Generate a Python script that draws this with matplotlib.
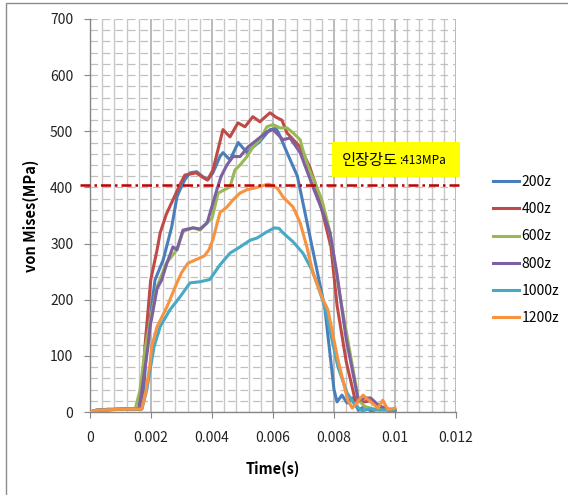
import numpy as np
import matplotlib
matplotlib.use("Agg")
import matplotlib.pyplot as plt
from matplotlib.patches import Rectangle

plt.rcParams['font.family'] = ['Noto Sans CJK KR', 'DejaVu Sans']

# von Mises stress (MPa) vs time (s)
t_200 = [0, 0.0002, 0.0006, 0.001, 0.0016, 0.00176, 0.00186, 0.00213, 0.0024, 0.00268, 0.00285,
         0.00295, 0.00311, 0.00328, 0.0035, 0.0037, 0.00387, 0.00403, 0.00426, 0.00436, 0.00459,
         0.00486, 0.00515, 0.00535, 0.00555, 0.0059, 0.0061, 0.0062, 0.00646, 0.0068, 0.0077,
         0.0080, 0.0081, 0.00826, 0.00843, 0.0086, 0.0088, 0.009, 0.0092, 0.0095, 0.0098]
v_200 = [0, 3, 4, 5, 5, 39, 116, 235, 271, 330, 383,
         396, 414, 426, 428, 419, 414, 426, 455, 462, 449,
         480, 462, 472, 481, 503, 505, 495, 462, 420, 185,
         40, 18, 30, 16, 25, 3, 10, 2, 5, 3]

t_400 = [0, 0.0002, 0.0006, 0.001, 0.0016, 0.00172, 0.0018, 0.00199, 0.0022, 0.0023, 0.0025,
         0.00272, 0.00295, 0.00311, 0.00348, 0.0037, 0.00385, 0.00403, 0.00436, 0.00459, 0.00485,
         0.00508, 0.00534, 0.00557, 0.0059, 0.0061, 0.00629, 0.00646, 0.00689, 0.0072, 0.0074,
         0.0079, 0.0081, 0.0084, 0.0087, 0.009, 0.0092, 0.0095, 0.0098, 0.01]
v_400 = [0, 3, 5, 5, 5, 39, 116, 235, 289, 319, 352,
         378, 405, 422, 426, 418, 413, 431, 503, 490, 515,
         508, 526, 517, 533, 525, 520, 497, 472, 437, 405,
         294, 190, 90, 20, 18, 20, 8, 3, 3]

t_600 = [0, 0.0002, 0.0006, 0.001, 0.00148, 0.00164, 0.0018, 0.002, 0.0022, 0.0025, 0.00285,
         0.00305, 0.00338, 0.00361, 0.00384, 0.004, 0.0042, 0.00459, 0.00475, 0.00492, 0.00515,
         0.00534, 0.00557, 0.0058, 0.006, 0.00623, 0.00646, 0.00666, 0.00689, 0.00698, 0.00715,
         0.00738, 0.0076, 0.00777, 0.00787, 0.0082, 0.0088, 0.009, 0.0093, 0.0096, 0.01]
v_600 = [0, 3, 4, 5, 5, 39, 110, 170, 223, 265, 289,
         322, 328, 324, 337, 345, 390, 401, 431, 440, 455,
         472, 485, 508, 512, 506, 506, 497, 485, 467, 437,
         408, 378, 342, 319, 205, 22, 10, 5, 5, 3]

t_800 = [0, 0.0002, 0.0006, 0.001, 0.0016, 0.0017, 0.0019, 0.00197, 0.0022, 0.00235, 0.00252,
         0.00272, 0.00285, 0.00305, 0.00338, 0.00361, 0.00384, 0.00416, 0.0043, 0.00449, 0.00469,
         0.00492, 0.00518, 0.00548, 0.0058, 0.006, 0.00633, 0.00656, 0.00689, 0.00731, 0.00764,
         0.00787, 0.0081, 0.0084, 0.0088, 0.009, 0.0092, 0.0094, 0.0096, 0.0098, 0.01]
v_800 = [0, 3, 4, 5, 5, 39, 116, 152, 220, 235, 265,
         294, 289, 324, 328, 326, 337, 396, 420, 440, 455,
         455, 472, 485, 499, 503, 485, 488, 462, 401, 355,
         319, 245, 130, 20, 25, 25, 15, 8, 5, 3]

t_1000 = [0, 0.0002, 0.0006, 0.001, 0.0017, 0.00186, 0.0021, 0.0023, 0.00262, 0.00295, 0.00328,
          0.00361, 0.00393, 0.00426, 0.00459, 0.00492, 0.00525, 0.00548, 0.0058, 0.00605, 0.0062,
          0.00633, 0.00666, 0.00698, 0.00728, 0.00748, 0.0077, 0.00813, 0.00843, 0.00869, 0.00892,
          0.0092, 0.0095, 0.0098, 0.01]
v_1000 = [0, 3, 4, 5, 5, 39, 116, 152, 182, 205, 230,
          232, 236, 262, 283, 294, 306, 310, 321, 328, 327,
          319, 303, 283, 253, 223, 187, 80, 34, 12, 2,
          6, 3, 5, 4]

t_1200 = [0, 0.0002, 0.0006, 0.001, 0.0017, 0.00184, 0.00197, 0.00202, 0.0022, 0.00252, 0.00285,
          0.0030, 0.00321, 0.0035, 0.00375, 0.0039, 0.00403, 0.00426, 0.00449, 0.00469, 0.00492,
          0.00515, 0.0054, 0.0056, 0.00584, 0.006, 0.00615, 0.00633, 0.00666, 0.00689, 0.00711,
          0.00731, 0.00764, 0.0078, 0.00813, 0.00845, 0.0086, 0.00895, 0.00925, 0.00944, 0.0096,
          0.00977, 0.01]
v_1200 = [0, 3, 4, 5, 5, 39, 87, 116, 152, 187, 230,
          248, 265, 272, 278, 289, 307, 355, 365, 378, 390,
          396, 399, 402, 406, 403, 398, 383, 365, 337, 294,
          248, 200, 182, 93, 21, 7, 30, 16, 7, 21,
          4, 7]

series = [("200z", t_200, v_200, "#4A7EBB"),
          ("400z", t_400, v_400, "#BE4B48"),
          ("600z", t_600, v_600, "#98B954"),
          ("800z", t_800, v_800, "#7D60A0"),
          ("1000z", t_1000, v_1000, "#46AAC5"),
          ("1200z", t_1200, v_1200, "#F69240")]

tensile_strength = 405
x_ticks = [0, 0.002, 0.004, 0.006, 0.008, 0.01, 0.012]
x_labels = ["0", "0.002", "0.004", "0.006", "0.008", "0.01", "0.012"]
y_ticks = [0, 100, 200, 300, 400, 500, 600, 700]

fig = plt.figure(figsize=(5.68, 4.95), dpi=100)
ax = fig.add_axes([90/568, 83/495, 366/568, 393/495])

for name, t, v, c in series:
    ax.plot(t, v, color=c, lw=2.2, label=name, solid_joinstyle='round', zorder=3)

ax.plot([-0.00033, 0.01213], [tensile_strength, tensile_strength], color="#C00000",
        lw=1.8, linestyle=(0, (4, 1.6, 1, 1.6)), clip_on=False, zorder=4)

ax.set_xlim(0, 0.012)
ax.set_ylim(0, 700)
ax.set_xticks(x_ticks)
ax.set_xticklabels(x_labels)
ax.set_xticks(np.arange(0, 0.01201, 0.0004), minor=True)
ax.set_yticks(y_ticks)
ax.set_yticks(np.arange(0, 701, 20), minor=True)

ax.set_axisbelow(True)
ax.grid(which='both', axis='x', color='#C8C8C8', lw=1.0)
ax.grid(which='major', axis='x', color='#BBBBBB', lw=1.4)
ax.grid(which='both', axis='y', color='#C0C0C0', lw=0.9, linestyle=(0, (6, 4)))

for s in ("top", "right"):
    ax.spines[s].set_visible(False)
for s in ("left", "bottom"):
    ax.spines[s].set_color("#868686")
    ax.spines[s].set_linewidth(1.0)

ax.tick_params(which='major', length=4, color="#868686", labelsize=10, colors="#222222")
ax.tick_params(which='major', axis='y', pad=8)
ax.tick_params(which='major', axis='x', pad=10)
ax.tick_params(which='minor', length=0)

ax.set_xlabel("Time(s)", fontsize=10.5, fontweight='bold')
ax.set_ylabel("von Mises(MPa)", fontsize=10.5, fontweight='bold')
ax.xaxis.set_label_coords(0.5, -0.125)
ax.yaxis.set_label_coords(-0.14, 0.5)

# yellow annotation box
ax.add_patch(Rectangle((242/366, 235/393), 128/366, 35/393, transform=ax.transAxes,
                       facecolor="#FFFF00", edgecolor="none", clip_on=False, zorder=5))
ax.text(252/366, 252/393, "인장강도", transform=ax.transAxes, fontsize=11,
        va='center', ha='left', zorder=6)
ax.text(309/366, 252/393, ":413MPa", transform=ax.transAxes, fontsize=8.5,
        va='center', ha='left', zorder=6)

ax.legend(loc='upper left', bbox_to_anchor=(493/568, 1 - 175/495), bbox_transform=fig.transFigure,
          frameon=False, fontsize=10, handlelength=1.9, handletextpad=0.15,
          labelspacing=0.95, borderpad=0, borderaxespad=0)

fig.patches.append(Rectangle((6/568, -0.01), 1.0, 1 - 3/495 + 0.01, transform=fig.transFigure,
                             fill=False, edgecolor="#8C8C8C", lw=1.0))

plt.savefig("out.png", dpi=100)
